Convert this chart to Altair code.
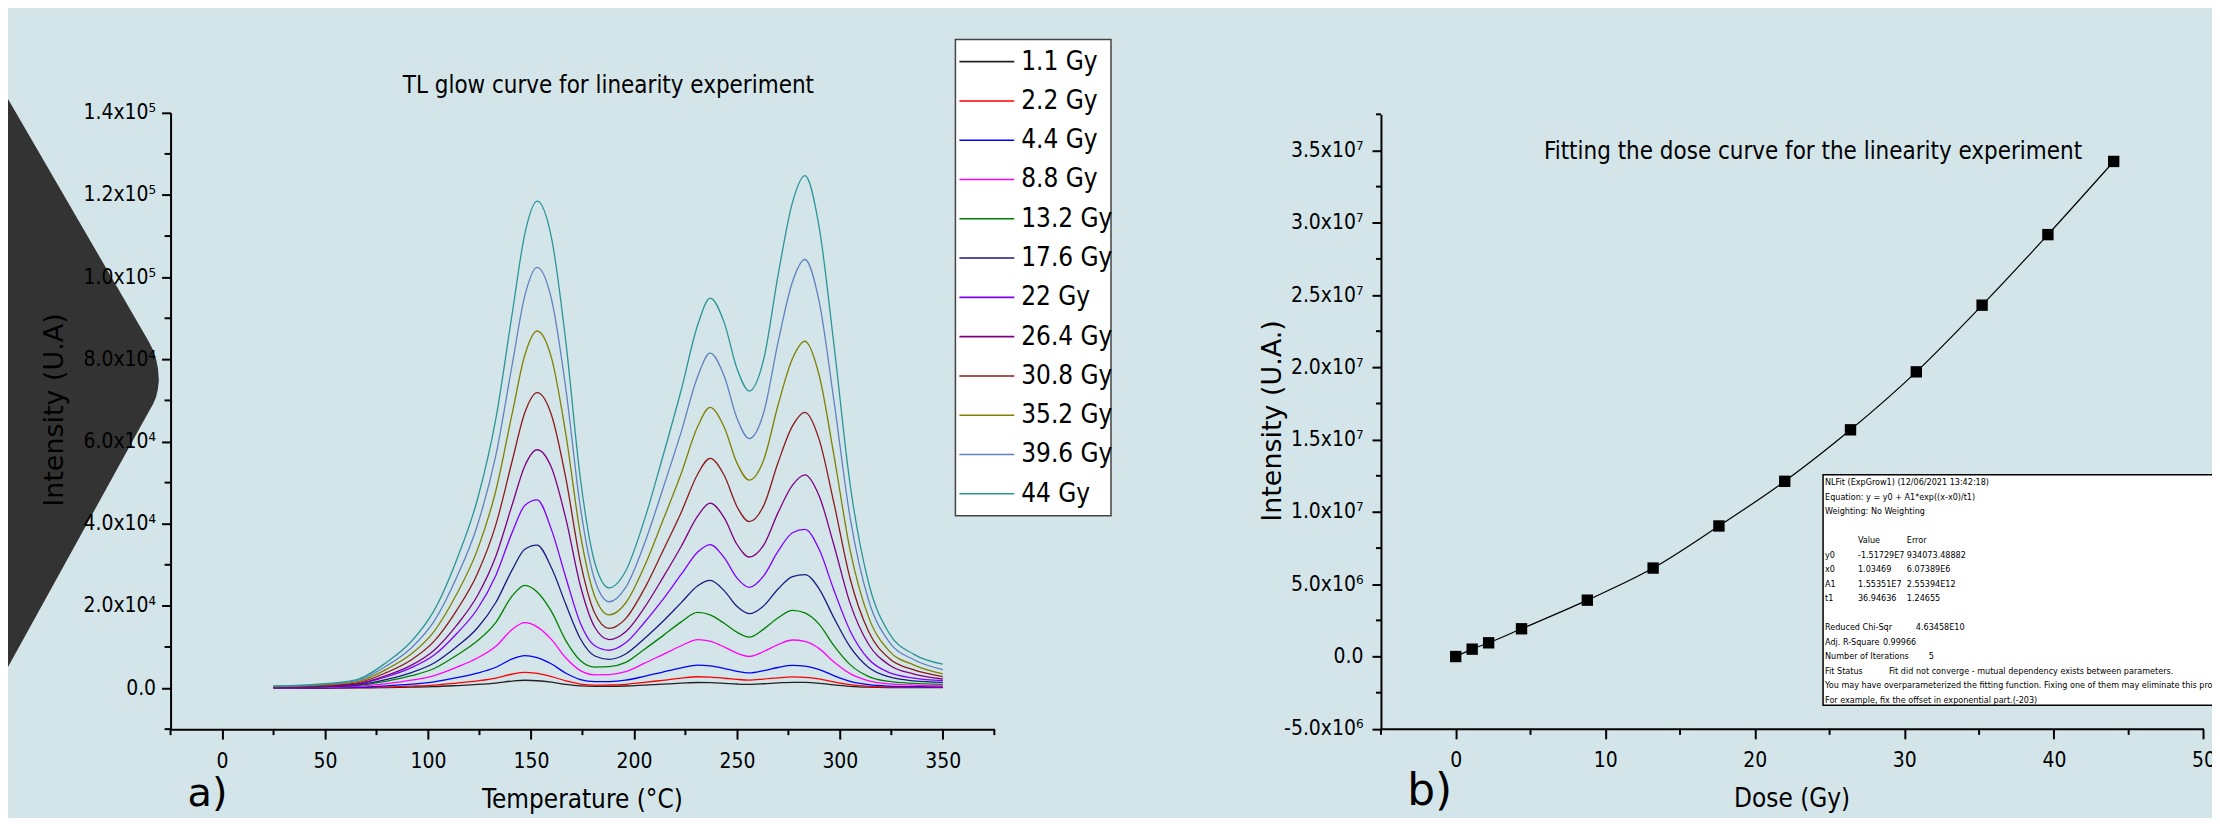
import altair as alt
import pandas as pd

W, H = 2210, 810
BG = "#d4e5ea"
NARROW = "Liberation Sans Narrow, Arial Narrow, DejaVu Sans Condensed, sans-serif"
WIDE = "DejaVu Sans, Verdana, sans-serif"

# ---------------- TL glow curves (panel a) ----------------
temperature = [25, 45, 65, 80, 92, 103, 114, 124, 133, 141, 147, 153, 160, 167, 174, 181, 188,
               196, 205, 214, 223, 231, 237, 244, 250, 256, 263, 270, 277, 283, 290, 297, 305,
               314, 324, 336, 350]
dose_labels = ["1.1 Gy", "2.2 Gy", "4.4 Gy", "8.8 Gy", "13.2 Gy", "17.6 Gy", "22 Gy",
               "26.4 Gy", "30.8 Gy", "35.2 Gy", "39.6 Gy", "44 Gy"]
dose_colors = ["#222222", "#ff0000", "#0000ff", "#ff00ff", "#008000", "#1a1a80", "#8000ff",
               "#800080", "#8b1a1a", "#808000", "#6080c0", "#2a9595"]

glow_1_1 = [10, 17, 46, 127, 230, 360, 610, 870, 1220, 1710, 1900, 1780, 1420, 900, 535, 415, 420,
            495, 715, 950, 1190, 1350, 1310, 1150, 990, 900, 1050, 1260, 1400, 1360, 1150, 770, 420,
            210, 120, 100, 100]
glow_2_2 = [20, 35, 90, 250, 460, 720, 1220, 1750, 2430, 3420, 3800, 3550, 2810, 1720, 980, 730, 740,
            910, 1380, 1890, 2400, 2750, 2670, 2390, 2110, 1950, 2180, 2490, 2700, 2620, 2210, 1490, 810,
            400, 230, 160, 150]
glow_4_4 = [40, 70, 190, 530, 950, 1500, 2530, 3630, 5060, 7110, 7900, 7400, 5850, 3600, 2080, 1560, 1580,
            1910, 2850, 3880, 4900, 5600, 5410, 4750, 4080, 3700, 4240, 5000, 5500, 5340, 4500, 3030, 1650,
            830, 470, 330, 300]
glow_8_8 = [80, 140, 380, 1070, 1910, 3020, 5090, 7310, 10180, 14310, 15900, 14900, 11800, 7300, 4250, 3230, 3270,
            3970, 6000, 8150, 10300, 11800, 11400, 9960, 8500, 7700, 8900, 10580, 11700, 11350, 9600, 6400, 3500,
            1750, 1000, 700, 500]
glow_13_2 = [125, 225, 600, 1680, 3000, 4750, 8000, 11500, 16000, 22500, 25000, 23400, 18600, 11500, 6700, 5100, 5200,
             6250, 9400, 12700, 16100, 18400, 17800, 15700, 13600, 12400, 14350, 17100, 18900, 18300, 15500, 10400, 5700,
             2800, 1600, 1130, 900]
glow_17_6 = [160, 280, 700, 2090, 3760, 6090, 10090, 14620, 20880, 28880, 33760, 34800, 29200, 20300, 12000, 7800, 7000,
             8300, 12000, 16200, 20800, 24900, 26200, 23600, 19900, 18100, 20000, 24100, 27100, 27600, 24100, 17200, 10000,
             5000, 2700, 1750, 1400]
glow_22 = [210, 370, 920, 2750, 4950, 8020, 13280, 19240, 27480, 38010, 44430, 45800, 38500, 26800, 15800, 10300, 9200,
           11000, 15900, 21500, 27700, 33100, 34900, 31600, 26800, 24500, 27300, 33300, 37800, 38600, 33700, 24000, 13900,
           7000, 3750, 2440, 1800]
glow_26_4 = [245, 440, 990, 3070, 5570, 9220, 15310, 22450, 32130, 44780, 54060, 58000, 53600, 41100, 24900, 14800, 11800,
             13700, 19500, 26800, 34500, 41900, 45000, 41300, 35000, 31900, 34800, 42700, 49400, 51900, 46700, 35000, 20600,
             10600, 5600, 3400, 2200]
glow_30_8 = [300, 550, 1220, 3810, 6900, 11430, 18980, 27830, 39830, 55510, 67010, 71900, 66400, 50900, 30700, 18200, 14500,
             16900, 24100, 33300, 42800, 52100, 55900, 51600, 44200, 40500, 44400, 54900, 63800, 67100, 60400, 45300, 26600,
             13700, 7200, 4400, 2800]
glow_35_2 = [365, 660, 1480, 4610, 8340, 13820, 22940, 33630, 48140, 67090, 80990, 86900, 80300, 61600, 37400, 22300, 17800,
             20700, 29500, 40700, 52300, 63700, 68300, 63300, 54800, 50600, 55500, 68900, 80200, 84400, 76000, 57000, 33500,
             17200, 9000, 5600, 3450]
glow_39_6 = [430, 780, 1740, 5430, 9830, 16280, 27030, 39630, 56730, 79050, 95440, 102400, 94590, 72600, 44000, 26300, 21000,
             24500, 35000, 48400, 62400, 75900, 81500, 75700, 65700, 60700, 67000, 84200, 98900, 104300, 93900, 70400, 41400,
             21300, 11200, 6900, 4500]
glow_44 = [500, 900, 2000, 6300, 11400, 18900, 31300, 45900, 65700, 91500, 110500, 118500, 109500, 84000, 51000, 30500, 24400,
           28500, 40800, 56300, 72600, 88400, 94900, 88700, 77800, 72300, 80000, 100500, 118200, 124700, 112000, 84100, 49500,
           25500, 13300, 8200, 5800]
glow_series = [glow_1_1, glow_2_2, glow_4_4, glow_8_8, glow_13_2, glow_17_6, glow_22,
               glow_26_4, glow_30_8, glow_35_2, glow_39_6, glow_44]

# ---------------- dose response (panel b) ----------------
dose_gy = [0, 1.1, 2.2, 4.4, 8.8, 13.2, 17.6, 22, 26.4, 30.8, 35.2, 39.6, 44]
dose_intensity = [0, 5.1e5, 9.5e5, 1.92e6, 3.9e6, 6.12e6, 9.03e6, 1.212e7, 1.568e7, 1.969e7,
                  2.43e7, 2.918e7, 3.424e7]

# ---------------- axes ticks / labels ----------------
left_x_ticks = [0, 50, 100, 150, 200, 250, 300, 350]
left_x_minor = [-25, 25, 75, 125, 175, 225, 275, 325, 375]
left_y_ticks = [0, 20000, 40000, 60000, 80000, 100000, 120000, 140000]
left_y_labels = ["0.0", "2.0x10⁴", "4.0x10⁴", "6.0x10⁴", "8.0x10⁴", "1.0x10⁵", "1.2x10⁵", "1.4x10⁵"]
left_y_minor = [-10000, 10000, 30000, 50000, 70000, 90000, 110000, 130000]
right_x_ticks = [0, 10, 20, 30, 40, 50]
right_x_minor = [-5, 5, 15, 25, 35, 45]
right_y_ticks = [-5000000, 0, 5000000, 10000000, 15000000, 20000000, 25000000, 30000000, 35000000]
right_y_labels = ["-5.0x10⁶", "0.0", "5.0x10⁶", "1.0x10⁷", "1.5x10⁷", "2.0x10⁷", "2.5x10⁷",
                  "3.0x10⁷", "3.5x10⁷"]
right_y_minor = [-2500000, 2500000, 7500000, 12500000, 17500000, 22500000, 27500000,
                 32500000, 37500000]

# ---------------- texts ----------------
title_left = "TL glow curve for linearity experiment"
title_right = "Fitting the dose curve for the linearity experiment"
xtitle_left = "Temperature (°C)"
xtitle_right = "Dose (Gy)"
ytitle_left = "Intensity (U.A)"
ytitle_right = "Intensity (U.A.)"
# fit report: (row, text) per column
fit_col_a = [(0, "NLFit (ExpGrow1) (12/06/2021 13:42:18)"),
             (1, "Equation: y = y0 + A1*exp((x-x0)/t1)"),
             (2, "Weighting: No Weighting"),
             (5, "y0"), (6, "x0"), (7, "A1"), (8, "t1"),
             (10, "Reduced Chi-Sqr"), (11, "Adj. R-Square"), (12, "Number of Iterations"),
             (13, "Fit Status"),
             (14, "You may have overparameterized the fitting function. Fixing one of them may eliminate this problem."),
             (15, "For example, fix the offset in exponential part.(-203)")]
fit_col_b = [(4, "Value"), (5, "-1.51729E7"), (6, "1.03469"), (7, "1.55351E7"), (8, "36.94636")]
fit_col_c = [(4, "Error"), (5, "934073.48882"), (6, "6.07389E6"), (7, "2.55394E12"), (8, "1.24655")]
fit_chi = [(10, "4.63458E10")]
fit_adj = [(11, "0.99966")]
fit_iter = [(12, "5")]
fit_status = [(13, "Fit did not converge - mutual dependency exists between parameters.")]

# decorative slide chevron (pixel space)
shape_x = [0, 135, 141, 145.5, 148.5, 150.3, 151.2]
shape_top = [90.1, 322.8, 333, 342, 351, 360, 371]
shape_bot = [659.8, 414.9, 404, 396, 389, 381, 373]

# ---------------- build ----------------
rows = []
for lab, vals in zip(dose_labels, glow_series):
    for t, v in zip(temperature, vals):
        rows.append({"T": t, "I": v, "dose": lab})
df_glow = pd.DataFrame(rows)
df_dose = pd.DataFrame({"dose": dose_gy, "intensity": dose_intensity})
df_leg = pd.DataFrame({"dose": dose_labels, "idx": list(range(len(dose_labels)))})
df_shape = pd.DataFrame({"px": shape_x, "top": shape_top, "bot": shape_bot})

sx_L = alt.Scale(domain=[-25, 375], range=[163, 989], nice=False, zero=False)
sy_L = alt.Scale(domain=[-10000, 140000], range=[722, 104], nice=False, zero=False)
sx_R = alt.Scale(domain=[-5, 50], range=[1376.7, 2201.4], nice=False, zero=False)
sy_R = alt.Scale(domain=[-5000000, 37500000], range=[721.7, 105.5], nice=False, zero=False)
sx_P = alt.Scale(domain=[0, W], range=[0, W], nice=False, zero=False)
sy_P = alt.Scale(domain=[0, H], range=[0, H], nice=False, zero=False)
col_scale = alt.Scale(domain=dose_labels, range=dose_colors)
leg_scale = alt.Scale(domain=[0, 11], range=[52.7, 486], nice=False, zero=False)
fit_row_scale = alt.Scale(domain=[0, 15], range=[474.5, 692.5], nice=False, zero=False)


def label_expr(vals, labs):
    e = "''"
    for v, l in reversed(list(zip(vals, labs))):
        e = f"datum.value == {v} ? '{l}' : {e}"
    return e


def axis(orient, offset, values, size, pad, expr=None):
    kw = dict(orient=orient, offset=offset, values=values, grid=False, domainColor="black",
              domainWidth=2, tickColor="black", tickWidth=2, tickSize=size, labelFont=NARROW,
              labelFontSize=21, labelColor="black", labelPadding=pad, labelFlush=False,
              labelOverlap=False, zindex=1)
    if expr:
        kw["labelExpr"] = expr
    return alt.Axis(**kw)


def text_layer(text, x, y, **kw):
    return alt.Chart(pd.DataFrame({"t": [text]})).mark_text(**kw).encode(
        x=alt.value(x), y=alt.value(y), text="t:N")


def fit_layer(entries, x):
    d = pd.DataFrame({"row": [r for r, _ in entries], "t": [s for _, s in entries]})
    return alt.Chart(d).mark_text(font=NARROW, fontSize=9, color="black", align="left",
                                  baseline="middle").encode(
        y=alt.Y("row:Q", scale=fit_row_scale, axis=None), x=alt.value(x), text="t:N")


def box(x, x2, y, y2, **kw):
    return alt.Chart(pd.DataFrame({"k": [0]})).mark_rect(**kw).encode(
        x=alt.value(x), x2=alt.value(x2), y=alt.value(y), y2=alt.value(y2))


shape = alt.Chart(df_shape).mark_area(color="#333333", opacity=1).encode(
    x=alt.X("px:Q", scale=sx_P, axis=None),
    y=alt.Y("top:Q", scale=sy_P, axis=None),
    y2="bot:Q")

legend_box = box(950, 1106, 30.5, 508, fill="white", stroke="#444444", strokeWidth=1.5)
legend_lines = alt.Chart(df_leg).mark_rule(strokeWidth=1.6).encode(
    y=alt.Y("idx:Q", scale=leg_scale, axis=None),
    x=alt.value(954), x2=alt.value(1009),
    color=alt.Color("dose:N", scale=col_scale, legend=None))
legend_text = alt.Chart(df_leg).mark_text(align="left", baseline="middle", font=NARROW,
                                          fontSize=26, color="black").encode(
    y=alt.Y("idx:Q", scale=leg_scale, axis=None),
    x=alt.value(1016), text="dose:N")

glow_lines = alt.Chart(df_glow).mark_line(strokeWidth=1.3, interpolate="monotone").encode(
    x=alt.X("T:Q", scale=sx_L, axis=axis("bottom", -(H - 722), left_x_ticks, 10, 11), title=None),
    y=alt.Y("I:Q", scale=sy_L, axis=axis("left", -163, left_y_ticks, 9, 6,
                                          label_expr(left_y_ticks, left_y_labels)), title=None),
    color=alt.Color("dose:N", scale=col_scale, legend=None),
    order=alt.Order("T:Q"))

lx_minor = alt.Chart(pd.DataFrame({"v": left_x_minor})).mark_rule(color="black", strokeWidth=2).encode(
    x=alt.X("v:Q", scale=sx_L, axis=None), y=alt.value(722), y2=alt.value(728))
ly_minor = alt.Chart(pd.DataFrame({"v": left_y_minor})).mark_rule(color="black", strokeWidth=2).encode(
    y=alt.Y("v:Q", scale=sy_L, axis=None), x=alt.value(157), x2=alt.value(163))

fit_line = alt.Chart(df_dose).mark_line(color="black", strokeWidth=1.2, interpolate="monotone").encode(
    x=alt.X("dose:Q", scale=sx_R, axis=axis("bottom", -(H - 721.7), right_x_ticks, 10, 11), title=None),
    y=alt.Y("intensity:Q", scale=sy_R, axis=axis("left", -1376.7, right_y_ticks, 9, 9,
                                                 label_expr(right_y_ticks, right_y_labels)), title=None))
points = alt.Chart(df_dose).mark_point(shape="square", filled=True, size=130, color="black", opacity=1).encode(
    x=alt.X("dose:Q", scale=sx_R, axis=None),
    y=alt.Y("intensity:Q", scale=sy_R, axis=None))
rx_minor = alt.Chart(pd.DataFrame({"v": right_x_minor})).mark_rule(color="black", strokeWidth=2).encode(
    x=alt.X("v:Q", scale=sx_R, axis=None), y=alt.value(721.7), y2=alt.value(727.7))
ry_minor = alt.Chart(pd.DataFrame({"v": right_y_minor})).mark_rule(color="black", strokeWidth=2).encode(
    y=alt.Y("v:Q", scale=sy_R, axis=None), x=alt.value(1371.7), x2=alt.value(1376.7))

fit_box = box(1820, 2230, 467, 698, fill="white", stroke="black", strokeWidth=1.5)

layers = [
    shape,
    text_layer(ytitle_left, 47, 402, font=WIDE, fontSize=27, color="black", angle=270,
               align="center", baseline="middle"),
    legend_box, legend_lines, legend_text,
    glow_lines, lx_minor, ly_minor,
    fit_line, points, rx_minor, ry_minor,
    fit_box,
    fit_layer(fit_col_a, 1822),
    fit_layer(fit_col_b, 1855),
    fit_layer(fit_col_c, 1904),
    fit_layer(fit_chi, 1913),
    fit_layer(fit_adj, 1880),
    fit_layer(fit_iter, 1926),
    fit_layer(fit_status, 1886),
    text_layer(title_left, 602, 77, font=NARROW, fontSize=24, color="black", align="center", baseline="middle"),
    text_layer(title_right, 1810, 143, font=NARROW, fontSize=24, color="black", align="center", baseline="middle"),
    text_layer(xtitle_left, 576, 801, font=NARROW, fontSize=26, color="black", align="center", baseline="alphabetic"),
    text_layer(xtitle_right, 1789, 800, font=NARROW, fontSize=26, color="black", align="center", baseline="alphabetic"),
    text_layer(ytitle_right, 1268, 413, font=WIDE, fontSize=27, color="black", angle=270,
               align="center", baseline="middle"),
    text_layer("a)", 180, 799, font=WIDE, fontSize=40, color="black", align="left", baseline="alphabetic"),
    text_layer("b)", 1403, 798, font=WIDE, fontSize=44, color="black", align="left", baseline="alphabetic"),
]

chart = alt.layer(*layers).resolve_scale(
    x="independent", y="independent", color="independent"
).properties(
    width=W, height=H, padding=0, background=BG,
    autosize=alt.AutoSizeParams(type="none"),
).configure_view(stroke=None)

chart.save("out.html", embed_options={"renderer": "svg", "actions": False})
